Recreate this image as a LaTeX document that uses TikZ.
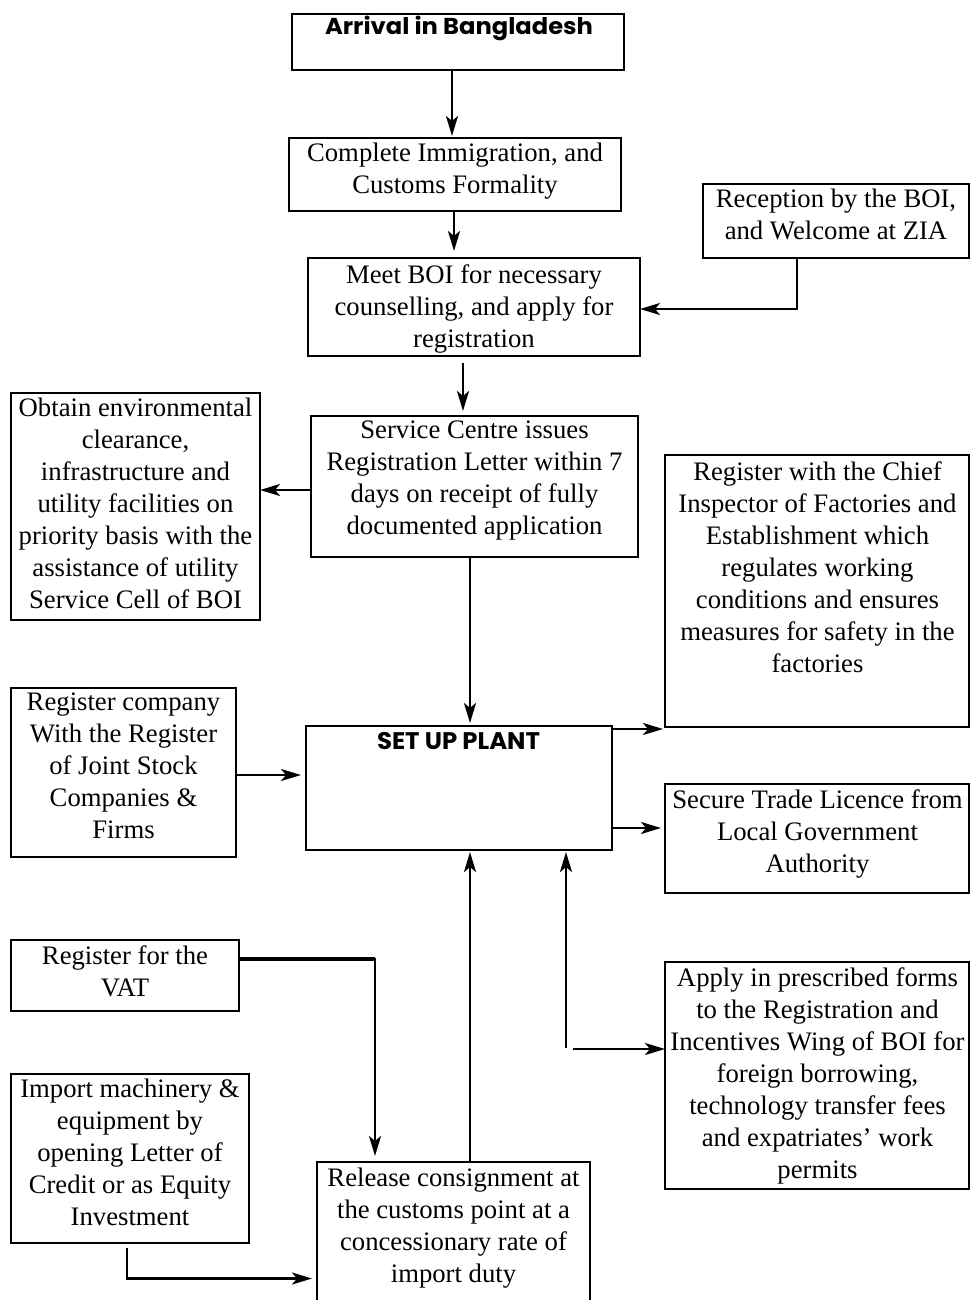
\documentclass[tikz,border=0pt]{standalone}
\usepackage{fontspec}
\usepackage{graphicx}
\setmainfont{Liberation Serif}
\newfontfamily\popfont{Poppins}
\usetikzlibrary{arrows.meta}
\newsavebox\fitbox
\newcommand\fitw[2]{\sbox\fitbox{#2}\pgfmathsetmacro\fitf{#1/\wd\fitbox}\scalebox{\fitf}[1]{\usebox\fitbox}}
\newcommand\bx[5]{\node[box, minimum width={(#4-#2)*1pt}, minimum height={(#5-#3)*1pt}] (#1) at ({(#2+#4)/2},{(#3+#5)/2}) {};}
\begin{document}
\begin{tikzpicture}[x=1pt,y=-1pt,
  box/.style={draw, line width=2.4pt, inner sep=0pt, outer sep=0pt},
  txt/.style={align=center, inner sep=0pt, anchor=north, font=\fontsize{26.7}{32}\selectfont},
  arr/.style={line width=2.5pt, -{Stealth[length=20pt,width=12pt,inset=5pt]}},
  ln/.style={line width=2.5pt}]
\useasboundingbox (0,0) rectangle (970,1300);
% boxes
\bx{arr}{292}{14}{624}{70}
\bx{comp}{289}{138}{621}{211}
\bx{meet}{308}{258}{640}{356}
\bx{rec}{703}{184}{969}{258}
\bx{obt}{11}{393}{260}{620}
\bx{serv}{311}{416}{638}{557}
\bx{chief}{665}{455}{969}{727}
\bx{comp2}{11}{688}{236}{857}
\bx{setup}{306}{726}{612}{850}
\bx{sec}{665}{784}{969}{893}
\bx{vat}{11}{940}{239}{1011}
\bx{apply}{665}{962}{969}{1189}
\bx{imp}{11}{1074}{249}{1243}
\bx{rel}{317}{1162}{590}{1305}
% texts
\node[anchor=base, inner sep=0pt, font=\popfont\bfseries\fontsize{23}{26}\selectfont] (tArr) at (459,35) {\fitw{268}{Arrival in Bangladesh}};
\node[anchor=base, inner sep=0pt, font=\popfont\bfseries\fontsize{24}{28}\selectfont] (tSet) at (458.5,749.5) {\fitw{163}{SET UP PLANT}};
\node[txt] (tComp) at (455,143) {Complete Immigration, and\\Customs Formality};
\node[txt] (tMeet) at (474,264) {Meet BOI for necessary\\counselling, and apply for\\registration};
\node[txt] (tRec) at (836,189) {Reception by the BOI,\\and Welcome at ZIA};
\node[txt] (tObt) at (135.5,398) {Obtain environmental\\clearance,\\infrastructure and\\utility facilities on\\priority basis with the\\assistance of utility\\Service Cell of BOI};
\node[txt] (tServ) at (474.5,421) {Service Centre issues\\Registration Letter within 7\\days on receipt of fully\\documented application};
\node[txt] (tChief) at (817.5,461) {Register with the Chief\\Inspector of Factories and\\Establishment which\\regulates working\\conditions and ensures\\measures for safety in the\\factories};
\node[txt] (tComp2) at (123.5,693) {Register company\\With the Register\\of Joint Stock\\Companies \&\\Firms};
\node[txt] (tSec) at (817.5,789) {Secure Trade Licence from\\Local Government\\Authority};
\node[txt] (tVat) at (125,945) {Register for the\\VAT};
\node[txt] (tApply) at (817.5,967) {Apply in prescribed forms\\to the Registration and\\Incentives Wing of BOI for\\foreign borrowing,\\technology transfer fees\\and expatriates’ work\\permits};
\node[txt] (tImp) at (130,1079) {Import machinery \&\\equipment by\\opening Letter of\\Credit or as Equity\\Investment};
\node[txt] (tRel) at (453.5,1168) {Release consignment at\\the customs point at a\\concessionary rate of\\import duty};
% connectors
\draw[arr, shorten >=2pt] ([xshift=-6pt]arr.south) -- ([xshift=-6pt]arr.south |- comp.north);
\draw[arr, shorten >=7pt] ([xshift=-1pt]comp.south) -- ([xshift=-1pt]comp.south |- meet.north);
\draw[arr] ([xshift=-39pt]rec.south) |- ([yshift=-2pt]meet.east);
\draw[arr, shorten <=7pt, shorten >=5pt] ([xshift=-11pt]meet.south) -- ([xshift=-11pt]meet.south |- serv.north);
\draw[arr] ([yshift=-3.5pt]serv.west) -- ([yshift=-3.5pt]serv.west -| obt.east);
\draw[arr, shorten >=3pt] ([xshift=-4.5pt]serv.south) -- ([xshift=-4.5pt]serv.south |- setup.north);
\draw[arr, shorten >=2pt] ([yshift=-3pt]setup.north east) -- ([yshift=-3pt]setup.north east -| chief.west);
\draw[arr, shorten >=5pt] ([yshift=-2.5pt]comp2.east) -- ([yshift=-2.5pt]comp2.east -| setup.west);
\draw[arr, shorten >=4pt] ([yshift=22pt]setup.south east) -- ([yshift=22pt]setup.south east -| sec.west);
\coordinate (vs) at ([yshift=16.5pt]vat.east);
\coordinate (vc) at ([xshift=-78.5pt]rel.north);
\draw[arr, shorten >=6pt] (vs) -| (vc);
\draw[line width=4pt] (vs) -- (vs -| vc);
\draw[arr, shorten >=5pt] ([xshift=-3pt,yshift=-5pt]imp.south) |- ([yshift=-45pt]rel.west);
\draw[arr, shorten >=2pt] ([xshift=16.5pt]rel.north) -- ([xshift=16.5pt]rel.north |- setup.south);
\coordinate (j1) at (566,1048);
\coordinate (j2) at (573,1049);
\draw[arr, shorten >=2pt] (j1) -- (j1 |- setup.south);
\draw[arr] (j2) -- (j2 -| apply.west);
\end{tikzpicture}
\end{document}
